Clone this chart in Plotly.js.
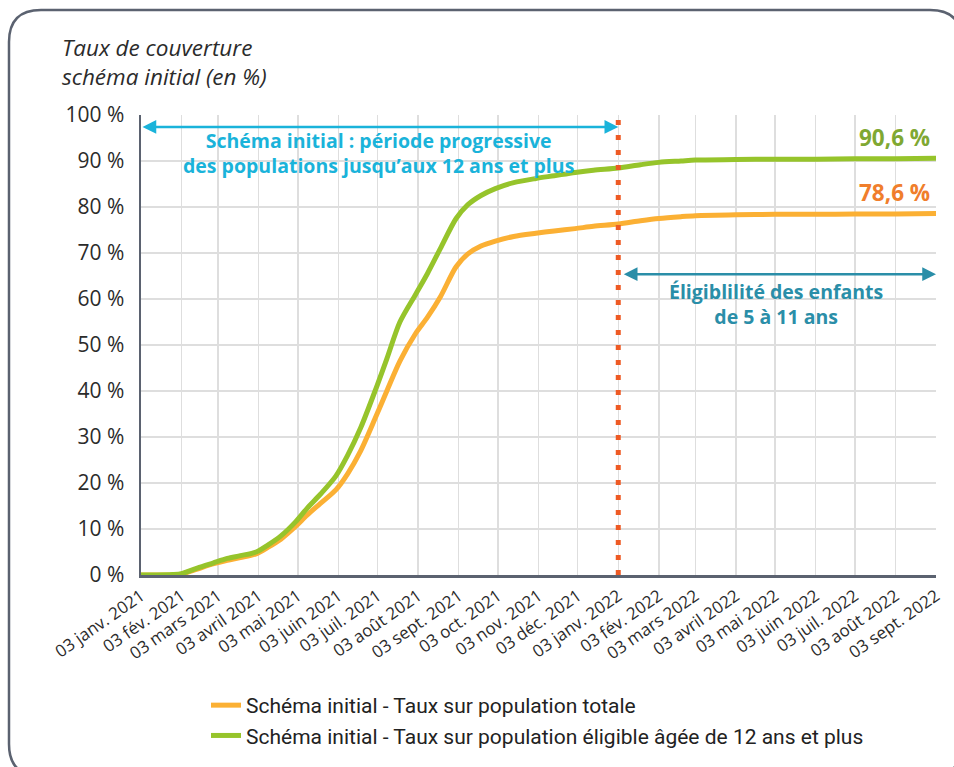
<!DOCTYPE html>
<html>
<head>
<meta charset="utf-8">
<script src="https://cdn.plot.ly/plotly-3.0.1.min.js"></script>
<style>
html,body{margin:0;padding:0;background:#fff;}
#chart{width:954px;height:767px;}
</style>
</head>
<body>
<div id="chart"></div>
<script>
// ---- Data ----
const datesTotal = ["2021-01-03","2021-01-15","2021-01-27","2021-02-03","2021-02-15","2021-02-27","2021-03-10","2021-03-20","2021-04-01","2021-04-10","2021-04-20","2021-05-01","2021-05-10","2021-05-20","2021-06-01","2021-06-10","2021-06-20","2021-07-01","2021-07-10","2021-07-20","2021-08-01","2021-08-10","2021-08-20","2021-09-01","2021-09-10","2021-09-20","2021-10-01","2021-10-15","2021-11-01","2021-11-15","2021-12-01","2021-12-15","2022-01-03","2022-01-20","2022-02-03","2022-02-20","2022-03-03","2022-04-03","2022-05-03","2022-06-03","2022-07-03","2022-08-03","2022-09-03"];
const tauxTotal = [0,0,0,0.2,1.3,2.4,3.2,3.8,4.6,6.0,7.8,10.5,13,15.5,18.5,22,27,34,40,46.5,52.5,56,60.5,67,69.8,71.5,72.6,73.6,74.3,74.8,75.3,75.8,76.3,77.0,77.5,77.9,78.1,78.3,78.4,78.4,78.5,78.5,78.6];
const tauxEligible = [0,0,0.1,0.3,1.5,2.6,3.6,4.2,5.0,6.5,8.5,11.5,14.5,17.5,21.5,26,32,40,47,55,61,65.5,71,77.5,80.5,82.5,84,85.3,86.2,86.8,87.5,88,88.5,89.2,89.7,90.0,90.2,90.3,90.4,90.4,90.5,90.5,90.6];

const tickDates = ["2021-01-03","2021-02-03","2021-03-03","2021-04-03","2021-05-03","2021-06-03","2021-07-03","2021-08-03","2021-09-03","2021-10-03","2021-11-03","2021-12-03","2022-01-03","2022-02-03","2022-03-03","2022-04-03","2022-05-03","2022-06-03","2022-07-03","2022-08-03","2022-09-03"];
const tickLabels = ["03 janv. 2021","03 fév. 2021","03 mars 2021","03 avril 2021","03 mai 2021","03 juin 2021","03 juil. 2021","03 août 2021","03 sept. 2021","03 oct. 2021","03 nov. 2021","03 déc. 2021","03 janv. 2022","03 fév. 2022","03 mars 2022","03 avril 2022","03 mai 2022","03 juin 2022","03 juil. 2022","03 août 2022","03 sept. 2022"];
const yTicks = [0,10,20,30,40,50,60,70,80,90,100];
const yTickLabels = ["0 %","10 %","20 %","30 %","40 %","50 %","60 %","70 %","80 %","90 %","100 %"];

const seriesNames = ["Schéma initial - Taux sur population totale","Schéma initial - Taux sur population éligible âgée de 12 ans et plus"];
const endLabels = ["78,6 %","90,6 %"];
const changeDate = "2022-01-03";
const startDate = "2021-01-03";
const endDate = "2022-09-03";

// ---- Layout helpers ----
const W = 954, H = 767;
const M = {l:141, r:18, t:115, b:192, autoexpand:false};
const pw = W - M.l - M.r, ph = H - M.t - M.b;
const px = v => (v - M.l) / pw;
const py = v => (H - M.b - v) / ph;

function roundedBox(x0,y0,x1,y1,r){
  const P=(x,y)=>px(x).toFixed(5)+','+py(y).toFixed(5);
  return 'M'+P(x0+r,y0)+' L'+P(x1-r,y0)+' Q'+P(x1,y0)+' '+P(x1,y0+r)+
         ' L'+P(x1,y1-r)+' Q'+P(x1,y1)+' '+P(x1-r,y1)+
         ' L'+P(x0+r,y1)+' Q'+P(x0,y1)+' '+P(x0,y1-r)+
         ' L'+P(x0,y0+r)+' Q'+P(x0,y0)+' '+P(x0+r,y0)+' Z';
}

const orange = "#fbb034", green = "#96c42b";
const font = "Open Sans, DejaVu Sans, sans-serif";

const traces = [
  {x: datesTotal, y: tauxTotal, name: seriesNames[0], type:'scatter', mode:'lines',
   line:{color:orange, width:5, shape:'spline', smoothing:0.8}, legendgroup:'a', hoverinfo:'skip'},
  {x: datesTotal, y: tauxEligible, name: seriesNames[1], type:'scatter', mode:'lines',
   line:{color:green, width:5, shape:'spline', smoothing:0.8}, legendgroup:'b', hoverinfo:'skip'}
];

const layout = {
  width: W, height: H,
  margin: M,
  paper_bgcolor:'#fff', plot_bgcolor:'#fff',
  font:{family:font, color:'#2b2b2b'},
  showlegend:true,
  legend:{x:px(206), xanchor:'left', y:py(685), yanchor:'top', orientation:'v',
          font:{family:'Roboto, sans-serif', size:21, color:'#222'}, tracegroupgap:0,
          bgcolor:'rgba(0,0,0,0)'},
  xaxis:{type:'date', range:[startDate,endDate], tickmode:'array', tickvals:tickDates, ticktext:tickLabels, automargin:false,
         tickangle:-35, tickfont:{size:17, color:'#2b2b2b', family:font}, showgrid:true, gridcolor:'#dedede', gridwidth:1.5,
         showline:true, linecolor:'#5b6270', linewidth:2.5, ticks:'', zeroline:false, fixedrange:true, ticklabelstandoff:2},
  yaxis:{range:[0,100], tickmode:'array', tickvals:yTicks, ticktext:yTickLabels, automargin:false,
         tickfont:{size:21, color:'#2b2b2b', family:font}, showgrid:true, gridcolor:'#dedede', gridwidth:1.5,
         showline:true, linecolor:'#5b6270', linewidth:2.5, ticks:'', zeroline:false, fixedrange:true, ticklabelstandoff:10},
  shapes:[
    {type:'path', xref:'paper', yref:'paper', path:roundedBox(9,10,962,776,32), line:{color:'#5b6270', width:2.5}, layer:'below'},
    {type:'line', xref:'x', yref:'paper', x0:changeDate, x1:changeDate, y0:0, y1:1,
     line:{color:'#ee5a24', width:5, dash:'5px,10px'}}
  ],
  annotations:[
    {xref:'paper', yref:'paper', x:px(60), y:py(62), xanchor:'left', yanchor:'middle', showarrow:false, align:'left',
     text:'<i>Taux de couverture<br>schéma initial (en %)</i>', font:{size:22.5, color:'#2b2b2b', family:font}},
    // arrow: schéma initial
    {xref:'x', yref:'y', axref:'x', ayref:'y', x:changeDate, y:97.4, ax:startDate, ay:97.4, text:'',
     showarrow:true, arrowhead:2, startarrowhead:2, arrowside:'end+start', arrowsize:1.1, startarrowsize:1.1, arrowwidth:2.5, arrowcolor:'#1ab3da'},
    {xref:'paper', yref:'paper', x:px(378), y:py(153), xanchor:'center', yanchor:'middle', showarrow:false,
     text:'<b>Schéma initial : période progressive<br>des populations jusqu’aux 12 ans et plus</b>',
     font:{size:19.5, color:'#1ab3da', family:font}},
    // arrow: enfants
    {xref:'x', yref:'y', axref:'x', ayref:'y', x:endDate, y:65.4, ax:changeDate, ay:65.4, text:'',
     showarrow:true, arrowhead:2, startarrowhead:2, arrowside:'end+start', arrowsize:1.1, startarrowsize:1.1, arrowwidth:2.5, arrowcolor:'#2a8ea8', standoff:0, startstandoff:4},
    {xref:'paper', yref:'paper', x:px(776), y:py(304), xanchor:'center', yanchor:'middle', showarrow:false,
     text:'<b>Éligiblilité des enfants<br>de 5 à 11 ans</b>',
     font:{size:19.5, color:'#2a8ea8', family:font}},
    // end labels
    {xref:'x', yref:'y', x:endDate, y:tauxEligible[tauxEligible.length-1], xanchor:'right', yanchor:'bottom', yshift:3, xshift:-4, showarrow:false,
     text:'<b>'+endLabels[1]+'</b>', font:{size:22.5, color:'#7fa832', family:font}},
    {xref:'x', yref:'y', x:endDate, y:tauxTotal[tauxTotal.length-1], xanchor:'right', yanchor:'bottom', yshift:3, xshift:-4, showarrow:false,
     text:'<b>'+endLabels[0]+'</b>', font:{size:22.5, color:'#f07e2c', family:font}}
  ]
};

Plotly.newPlot('chart', traces, layout, {staticPlot:true, displayModeBar:false});
</script>
</body>
</html>
